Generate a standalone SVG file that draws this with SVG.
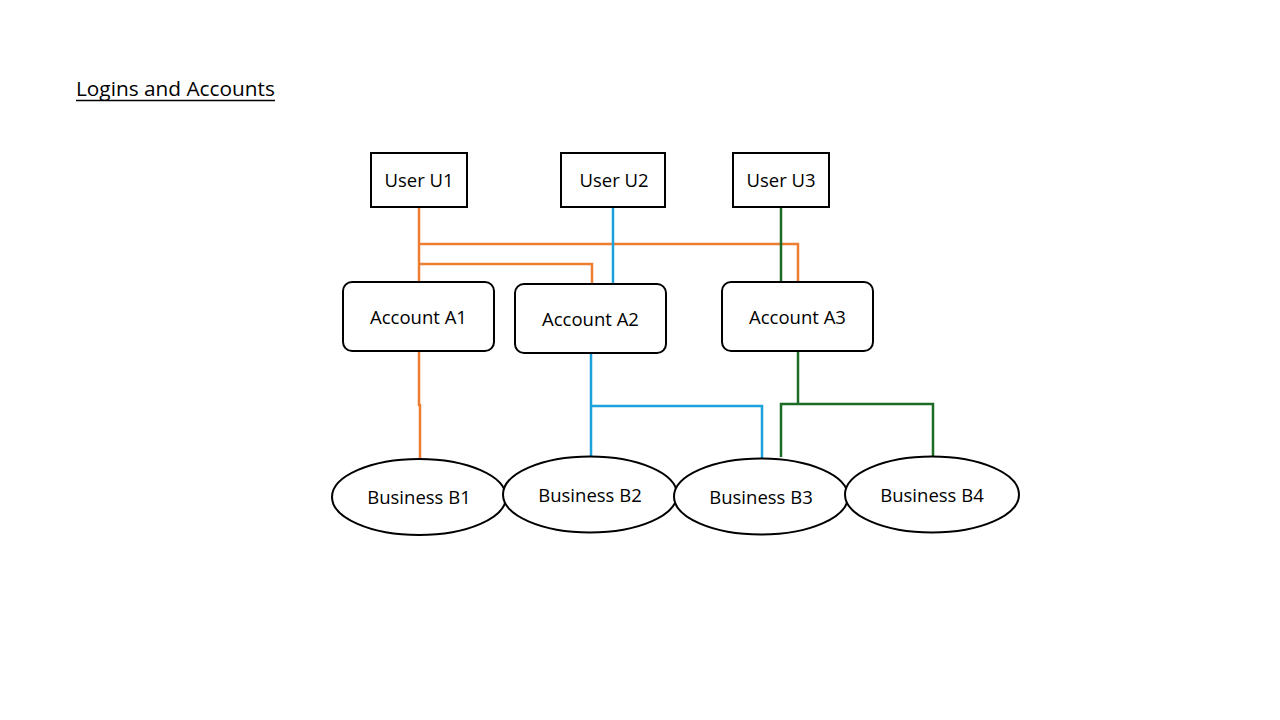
<svg xmlns="http://www.w3.org/2000/svg" width="1280" height="720" viewBox="0 0 1280 720">
<style>
text{font-family:"Open Sans","Noto Sans","Liberation Sans",sans-serif;fill:#000;}
.lbl{font-size:18.5px;text-anchor:middle;}
.box{fill:#fff;stroke:#000;stroke-width:2;}
.c{fill:none;stroke-width:2.5;}
.o{stroke:#ED7D31;}
.b{stroke:#1BA1DC;}
.g{stroke:#1E6B26;}
</style>
<rect width="1280" height="720" fill="#fff"/>
<g id="title">
<text x="76" y="96" style="font-size:20.8px">Logins and Accounts</text>
<line x1="76" y1="100.5" x2="275" y2="100.5" stroke="#000" stroke-width="1.6"/>
</g>
<g id="connectors">
<path class="c o" d="M419,207 V282 M419,244 H798 V282 M419,264 H592 V284"/>
<path class="c b" d="M613,207 V284"/>
<path class="c g" d="M781,207 V282"/>
<path class="c o" d="M419,351 V405 H420 V459"/>
<path class="c b" d="M591,353 V456 M591,406 H762 V459"/>
<path class="c g" d="M798,351 V404 M781,457 V404 H933 V456"/>
</g>
<g id="u1"><rect class="box" x="371" y="153" width="96" height="54"/><text class="lbl" x="419" y="187">User U1</text></g>
<g id="u2"><rect class="box" x="561" y="153" width="104" height="54"/><text class="lbl" x="614" y="187">User U2</text></g>
<g id="u3"><rect class="box" x="733" y="153" width="96" height="54"/><text class="lbl" x="781" y="187">User U3</text></g>
<g id="a1"><rect class="box" x="343" y="282" width="151" height="69" rx="9"/><text class="lbl" x="418.5" y="324">Account A1</text></g>
<g id="a2"><rect class="box" x="515" y="284" width="151" height="69" rx="9"/><text class="lbl" x="590.5" y="326">Account A2</text></g>
<g id="a3"><rect class="box" x="722" y="282" width="151" height="69" rx="9"/><text class="lbl" x="797.5" y="324">Account A3</text></g>
<g id="b1"><ellipse class="box" cx="419" cy="497" rx="87" ry="38"/><text class="lbl" x="419" y="504">Business B1</text></g>
<g id="b2"><ellipse class="box" cx="590" cy="494.5" rx="87" ry="38"/><text class="lbl" x="590" y="502">Business B2</text></g>
<g id="b3"><ellipse class="box" cx="761" cy="496.5" rx="87" ry="38"/><text class="lbl" x="761" y="504">Business B3</text></g>
<g id="b4"><ellipse class="box" cx="932" cy="494.5" rx="87" ry="38"/><text class="lbl" x="932" y="502">Business B4</text></g>
</svg>
